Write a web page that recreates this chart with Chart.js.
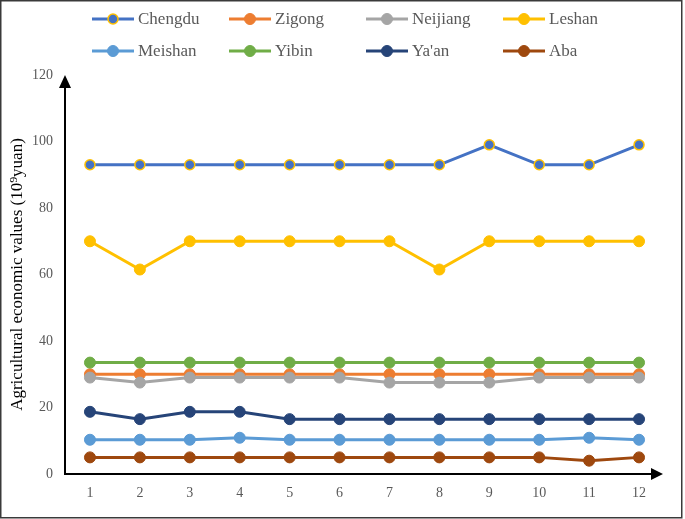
<!DOCTYPE html>
<html>
<head>
<meta charset="utf-8">
<script src="https://cdn.jsdelivr.net/npm/chart.js@4.4.1/dist/chart.umd.min.js"></script>
<style>
  html, body { margin: 0; padding: 0; background: #fff; overflow: hidden; }
  canvas { display: block; }
</style>
</head>
<body>
<canvas id="cityChart" width="685" height="519"></canvas>
<script>
// months / periods on the x axis
const periods = ['1', '2', '3', '4', '5', '6', '7', '8', '9', '10', '11', '12'];

// series values (10^9 yuan)
const chengdu  = [93, 93, 93, 93, 93, 93, 93, 93, 99, 93, 93, 99];
const zigong   = [30, 30, 30, 30, 30, 30, 30, 30, 30, 30, 30, 30];
const neijiang = [29, 27.5, 29, 29, 29, 29, 27.5, 27.5, 27.5, 29, 29, 29];
const leshan   = [70, 61.5, 70, 70, 70, 70, 70, 61.5, 70, 70, 70, 70];
const meishan  = [10.3, 10.3, 10.3, 10.9, 10.3, 10.3, 10.3, 10.3, 10.3, 10.3, 10.9, 10.3];
const yibin    = [33.5, 33.5, 33.5, 33.5, 33.5, 33.5, 33.5, 33.5, 33.5, 33.5, 33.5, 33.5];
const yaan     = [18.7, 16.5, 18.7, 18.7, 16.5, 16.5, 16.5, 16.5, 16.5, 16.5, 16.5, 16.5];
const aba      = [5, 5, 5, 5, 5, 5, 5, 5, 5, 5, 4, 5];

const seriesNames = ['Chengdu', 'Zigong', 'Neijiang', 'Leshan', 'Meishan', 'Yibin', "Ya'an", 'Aba'];
const seriesData = [chengdu, zigong, neijiang, leshan, meishan, yibin, yaan, aba];
const yTicks = [0, 20, 40, 60, 80, 100, 120];

const lineColors = ['#4472C4', '#ED7D31', '#A5A5A5', '#FFC000', '#5B9BD5', '#70AD47', '#264478', '#9E480E'];
const serif = '"Liberation Serif", "Times New Roman", serif';

const datasets = seriesNames.map((name, i) => ({
    label: name,
    data: seriesData[i],
    borderColor: lineColors[i],
    backgroundColor: lineColors[i],
    borderWidth: 3,
    pointRadius: i === 0 ? 5 : 5.5,
    pointBorderWidth: i === 0 ? 1.5 : 1,
    pointBackgroundColor: lineColors[i],
    pointBorderColor: i === 0 ? '#FFC000' : lineColors[i],
    tension: 0,
    order: seriesNames.length - i   // later series on top, like Excel
}));

// frame + arrowed axes
const axesPlugin = {
    id: 'arrowAxes',
    beforeDraw(chart) {
        const ctx = chart.ctx;
        ctx.save();
        ctx.fillStyle = '#fff';
        ctx.fillRect(0, 0, chart.width, chart.height);
        ctx.strokeStyle = '#3a3a3a';
        ctx.lineWidth = 1.5;
        ctx.strokeRect(0.75, 0.75, 681, 517);
        ctx.restore();
    },
    beforeDatasetsDraw(chart) {
        const ctx = chart.ctx;
        const a = chart.chartArea;
        const x0 = a.left, y0 = chart.scales.y.getPixelForValue(0);
        const yTop = chart.scales.y.getPixelForValue(120);
        ctx.save();
        ctx.strokeStyle = '#000';
        ctx.fillStyle = '#000';
        ctx.lineWidth = 2;
        ctx.beginPath();
        ctx.moveTo(x0, y0);
        ctx.lineTo(x0, yTop + 8);
        ctx.moveTo(x0 - 1, y0);
        ctx.lineTo(a.right - 6, y0);
        ctx.stroke();
        // y arrow
        ctx.beginPath();
        ctx.moveTo(x0, yTop);
        ctx.lineTo(x0 - 6, yTop + 13);
        ctx.lineTo(x0 + 6, yTop + 13);
        ctx.closePath();
        ctx.fill();
        // x arrow
        ctx.beginPath();
        ctx.moveTo(a.right - 1, y0);
        ctx.lineTo(a.right - 13, y0 - 6);
        ctx.lineTo(a.right - 13, y0 + 6);
        ctx.closePath();
        ctx.fill();
        ctx.restore();
    }
};

// legend in a 4-column grid
const gridLegend = {
    id: 'gridLegend',
    afterDraw(chart) {
        const ctx = chart.ctx;
        const colX = [92, 229, 366, 503];
        const rowY = [19, 51];
        ctx.save();
        chart.data.datasets.forEach((ds, i) => {
            const x = colX[i % 4], y = rowY[Math.floor(i / 4)];
            ctx.strokeStyle = ds.borderColor;
            ctx.lineWidth = 3;
            ctx.beginPath();
            ctx.moveTo(x, y);
            ctx.lineTo(x + 42, y);
            ctx.stroke();
            ctx.beginPath();
            ctx.arc(x + 21, y, ds.pointRadius, 0, Math.PI * 2);
            ctx.fillStyle = ds.pointBackgroundColor;
            ctx.fill();
            ctx.lineWidth = ds.pointBorderWidth;
            ctx.strokeStyle = ds.pointBorderColor;
            ctx.stroke();
            ctx.fillStyle = '#595959';
            ctx.font = '17px ' + serif;
            ctx.textBaseline = 'middle';
            ctx.textAlign = 'left';
            ctx.fillText(ds.label, x + 46, y + 1);
        });
        ctx.restore();
    }
};

const ctx = document.getElementById('cityChart').getContext('2d');
const cityChart = new Chart(ctx, {
    type: 'line',
    data: { labels: periods, datasets: datasets },
    options: {
        responsive: false,
        animation: false,
        layout: { padding: { top: 75, right: 21, bottom: 0, left: 0 } },
        plugins: {
            legend: { display: false },
            tooltip: { enabled: false }
        },
        scales: {
            x: {
                offset: true,
                grid: { display: false, drawTicks: false },
                border: { display: false },
                ticks: { color: '#595959', font: { family: serif, size: 14 }, padding: 11, maxRotation: 0 },
                afterFit(scale) { scale.height = 45; }
            },
            y: {
                min: 0,
                max: 120,
                afterBuildTicks(scale) { scale.ticks = yTicks.map(v => ({ value: v })); },
                grid: { display: false, drawTicks: false },
                border: { display: false },
                ticks: { color: '#595959', font: { family: serif, size: 14 }, padding: 12 },
                title: {
                    display: true,
                    text: 'Agricultural economic values (10⁹yuan)',
                    color: '#000',
                    font: { family: serif, size: 17 },
                    padding: { top: 7, bottom: 0 }
                },
                afterFit(scale) { scale.width = 65; }
            }
        }
    },
    plugins: [axesPlugin, gridLegend]
});
</script>
</body>
</html>
